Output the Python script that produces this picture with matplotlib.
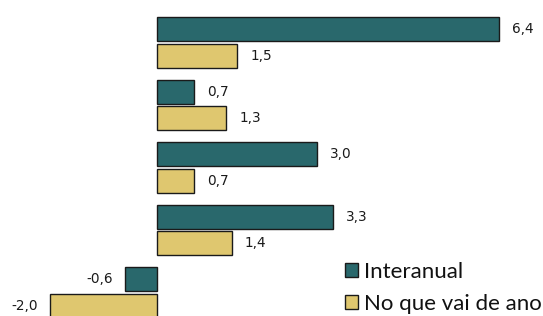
import matplotlib
matplotlib.use("Agg")
import matplotlib.pyplot as plt
from matplotlib.patches import Patch

plt.rcParams['font.family'] = ['Lato', 'DejaVu Sans']

groups = [0, 1, 2, 3, 4]
interanual = [6.4, 0.7, 3.0, 3.3, -0.6]
no_que_vai = [1.5, 1.3, 0.7, 1.4, -2.0]
series_names = ["Interanual", "No que vai de ano"]
colors = ["#29686C", "#DFC76F"]

fig = plt.figure(figsize=(5.43, 3.16), dpi=100)
ax = fig.add_axes([0, 0, 1, 1])

h = 0.384
off = 0.213
px = 1 / 53.4  # data units per pixel on x

def lab(v):
    return f"{v:.1f}".replace(".", ",")

for vals, sgn, col in [(interanual, -1, colors[0]), (no_que_vai, 1, colors[1])]:
    ys = [g + sgn * off for g in groups]
    ax.barh(ys, vals, height=h, color=col, edgecolor="#1a1a1a", linewidth=1)
    for y, v in zip(ys, vals):
        if v >= 0:
            ax.text(v + 13 * px, y, lab(v), va="center", ha="left", fontsize=9.8,
                    color="#1a1a1a", family="DejaVu Sans")
        else:
            ax.text(v - 12 * px, y, lab(v), va="center", ha="right", fontsize=9.8,
                    color="#1a1a1a", family="DejaVu Sans")

ax.set_xlim(-157 * px, 386 * px)
ax.set_ylim(4.378, -0.678)
ax.axis("off")

handles = [Patch(facecolor=c, edgecolor="#1a1a1a", linewidth=1) for c in colors]
leg = ax.legend(handles, series_names, loc="upper left", bbox_to_anchor=(345 / 543, 1 - 262 / 316),
                frameon=False, fontsize=16, handlelength=0.6, handleheight=0.6,
                handletextpad=0.27, labelspacing=0.52, borderpad=0, borderaxespad=0)
for t in leg.get_texts():
    t.set_color("#111111")

fig.savefig("out.png", dpi=100)
